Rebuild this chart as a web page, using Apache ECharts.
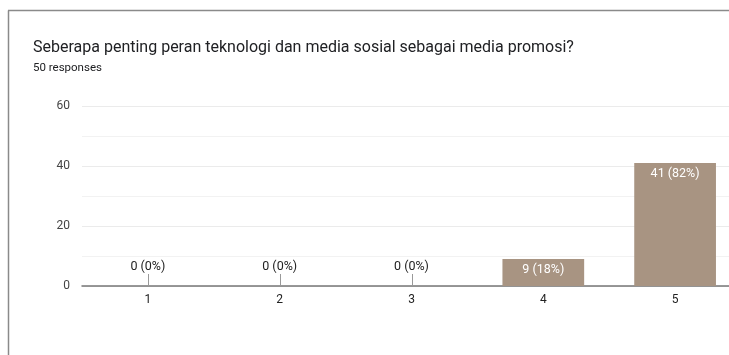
<!DOCTYPE html>
<html>
<head>
<meta charset="utf-8">
<style>
  html, body { margin: 0; padding: 0; background: #fff; }
  #chart { width: 729px; height: 355px; }
</style>
<script src="https://cdn.jsdelivr.net/npm/echarts@6/dist/echarts.min.js"></script>
</head>
<body>
<div id="chart"></div>
<script>
// Survey question and response counts per rating
const questionTitle = 'Seberapa penting peran teknologi dan media sosial sebagai media promosi?';
const responseNote = '50 responses';
const ratings = ['1', '2', '3', '4', '5'];
const counts = [0, 0, 0, 9, 41];
const percents = [0, 0, 0, 18, 82];
const yTicks = [0, 20, 40, 60];

const chart = echarts.init(document.getElementById('chart'));

const fontFamily = 'Roboto, Arial, sans-serif';
const barColor = '#a89482';

function labelText(i) {
  return counts[i] + ' (' + percents[i] + '%)';
}

chart.setOption({
  animation: false,
  backgroundColor: '#ffffff',
  textStyle: { fontFamily: fontFamily },
  title: [
    {
      text: questionTitle,
      left: 33, top: 40, padding: 0,
      textStyle: { fontSize: 16, fontWeight: 'normal', color: '#202124', fontFamily: fontFamily }
    },
    {
      text: responseNote,
      left: 33, top: 62, padding: 0,
      textStyle: { fontSize: 11.5, fontWeight: 'normal', color: '#202124', fontFamily: fontFamily }
    }
  ],
  graphic: [
    // card frame: left and top edges
    { type: 'line', shape: { x1: 8.5, y1: 10.5, x2: 8.5, y2: 355 }, style: { stroke: '#8a8a8a', lineWidth: 1.5 } },
    { type: 'line', shape: { x1: 8, y1: 10.5, x2: 729, y2: 10.5 }, style: { stroke: '#8a8a8a', lineWidth: 1.5 } }
  ],
  grid: { left: 82, top: 106, width: 659, height: 180, containLabel: false, outerBoundsMode: 'none' },
  xAxis: {
    type: 'category',
    data: ratings,
    axisLine: { show: true, lineStyle: { color: '#777', width: 1.5 } },
    axisTick: { show: false },
    axisLabel: { color: '#222', fontSize: 12, margin: 8, fontFamily: fontFamily },
    splitLine: { show: false }
  },
  yAxis: {
    type: 'value',
    min: yTicks[0],
    max: yTicks[yTicks.length - 1],
    interval: 20,
    axisLine: { show: false },
    axisTick: { show: false },
    axisLabel: { color: '#444', fontSize: 12, margin: 12, fontFamily: fontFamily },
    splitLine: { lineStyle: { color: '#ebebeb', width: 1 } },
    minorTick: { show: false, splitNumber: 2 },
    minorSplitLine: { show: true, lineStyle: { color: '#f2f2f2', width: 1 } }
  },
  series: [
    {
      type: 'bar',
      data: counts.map(function (v, i) {
        const zero = v === 0;
        return {
          value: v,
          label: {
            show: true,
            position: zero ? 'top' : 'insideTop',
            distance: zero ? 13 : 4,
            color: zero ? '#222' : '#ffffff',
            fontSize: 12.5,
            fontFamily: fontFamily,
            formatter: function () { return labelText(i); }
          }
        };
      }),
      barWidth: '62%',
      itemStyle: { color: barColor },
      z: 3
    },
    {
      // short stems under the labels of empty categories
      type: 'custom',
      data: counts.map(function (v, i) { return [i, v]; }),
      renderItem: function (params, api) {
        if (api.value(1) !== 0) return null;
        const p = api.coord([api.value(0), 0]);
        return {
          type: 'line',
          shape: { x1: Math.round(p[0]) + 0.5, y1: p[1], x2: Math.round(p[0]) + 0.5, y2: p[1] - 12 },
          style: { stroke: '#999', lineWidth: 1 }
        };
      },
      z: 4,
      silent: true
    }
  ]
});
</script>
</body>
</html>
